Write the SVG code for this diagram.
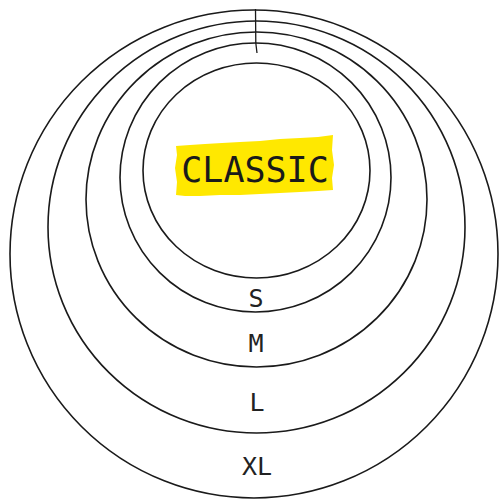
<svg xmlns="http://www.w3.org/2000/svg" width="500" height="501" viewBox="0 0 500 501">
<style>
.ring{fill:none;stroke:#1a1a1a;stroke-width:1.6}
.lbl{font-family:"DejaVu Sans Mono","Liberation Mono",monospace;font-size:25px;fill:#222;text-anchor:middle}
.title{font-family:"DejaVu Sans Mono","Liberation Mono",monospace;font-size:35px;fill:#1a1a1a;text-anchor:middle}
</style>
<rect width="500" height="501" fill="#fff"/>
<g id="connectors">
<path d="M255.5,9 L255.8,43 L257,53" fill="none" stroke="#1a1a1a" stroke-width="1.3"/>
</g>
<g id="ring-xl"><ellipse class="ring" cx="254" cy="254" rx="244" ry="244"/><text class="lbl" x="257" y="475">XL</text></g>
<g id="ring-l"><ellipse class="ring" cx="256.5" cy="227" rx="208.5" ry="206"/><text class="lbl" x="257" y="411">L</text></g>
<g id="ring-m"><ellipse class="ring" cx="256.5" cy="199.5" rx="170.5" ry="167.5"/><text class="lbl" x="256" y="352">M</text></g>
<g id="ring-s"><ellipse class="ring" cx="255.5" cy="177.5" rx="135.5" ry="134.5"/><text class="lbl" x="256" y="307">S</text></g>
<g id="classic">
<ellipse class="ring" cx="256.5" cy="170.5" rx="113.5" ry="107.5"/>
<polygon fill="#ffe800" points="176,146 190,145 205,144 222,143 240,142 260,141 280,139 300,138 318,137 333,135 332,150 334,165 332,178 333,190 318,191 300,192 280,193 260,194 240,195 220,195 200,196 185,196 176,195 177,182 175,168 177,155"/>
<text class="title" x="255" y="182">CLASSIC</text>
</g>
</svg>
